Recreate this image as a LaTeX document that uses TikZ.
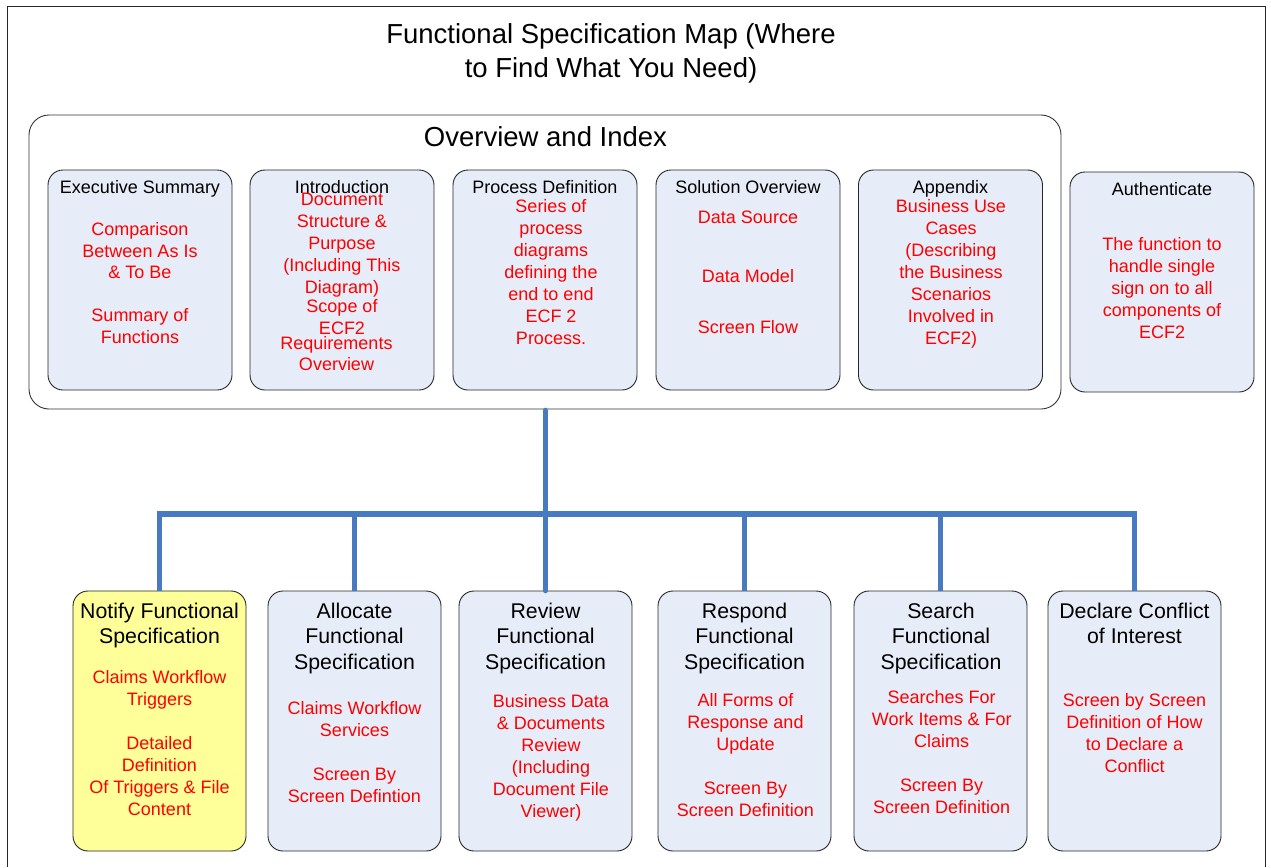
\documentclass[tikz,border=0pt]{standalone}
\usepackage{fontspec}
\setmainfont{Liberation Sans}
\definecolor{boxblue}{RGB}{231,237,248}
\definecolor{boxyellow}{RGB}{255,255,153}
\definecolor{connblue}{RGB}{72,122,194}
\definecolor{txtred}{RGB}{255,0,0}
\tikzset{
  frame/.style={draw=black!85, line width=0.9pt},
  container/.style={draw=black!80, fill=white, line width=0.9pt, rounded corners=20pt, inner sep=0pt},
  topbox/.style={draw=black!85, fill=boxblue, line width=0.9pt, rounded corners=15pt,
    minimum width=184pt, minimum height=220pt, inner sep=0pt},
  botbox/.style={draw=black!85, fill=boxblue, line width=0.9pt, rounded corners=15pt,
    minimum width=173pt, minimum height=260pt, inner sep=0pt},
  ttl/.style={inner sep=0pt, align=center, font=\fontsize{18}{21.5}\selectfont, anchor=base},
  bigttl/.style={inner sep=0pt, align=center, font=\fontsize{27.5}{34}\selectfont, anchor=north},
  bttl/.style={inner sep=0pt, align=center, font=\fontsize{21.3}{25.5}\selectfont, anchor=north},
  body/.style={inner sep=0pt, align=center, text=txtred, font=\fontsize{18}{22}\selectfont, anchor=north},
  conn/.style={draw=connblue, line width=5.5pt},
}
\begin{document}
\begin{tikzpicture}[x=1pt,y=-1pt]
\useasboundingbox (0,0) rectangle (1271,867);
% outer frame
\draw[frame] (7,867) -- (7,6) -- (1265,6) -- (1265,867);
\node[bigttl] (maintitle) at (611,23) {Functional Specification Map (Where\\to Find What You Need)};

% overview container
\node[container, minimum width=1032pt, minimum height=294pt] (ov) at (545,262) {};
\node[inner sep=0pt, font=\fontsize{27.5}{34}\selectfont, anchor=base] (ovt) at (545.5,146) {Overview and Index};

% top boxes
\node[topbox] (es) at (140,280) {};
\node[topbox] (in) at (342,280) {};
\node[topbox] (pd) at (545,280) {};
\node[topbox] (so) at (748,280) {};
\node[topbox] (ap) at (950.5,280) {};
\node[topbox] (au) at (1162,282) {};

\node[ttl] (es-t) at (140,193.5) {Executive Summary};
\node[ttl] (in-t) at (342,193.5) {Introduction};
\node[ttl] (pd-t) at (545,193.5) {Process Definition};
\node[ttl] (so-t) at (748,193.5) {Solution Overview};
\node[ttl] (ap-t) at (950.5,193.5) {Appendix};
\node[ttl] (au-t) at (1162,195.5) {Authenticate};

\node[body, font=\fontsize{18}{21.5}\selectfont] (es-b) at (140,222.5) {Comparison\\Between As Is\\\& To Be\\[21.5pt]Summary of\\Functions};
\node[body] (in-b) at (342,192.5) {Document\\Structure \&\\Purpose\\(Including This\\Diagram)\\[-3pt]Scope of\\ECF2};
\node[body] (in-b2) at (336.5,336.5) {Requirements\\[-1pt]Overview};
\node[body] (pd-b) at (551,199.5) {Series of\\process\\diagrams\\defining the\\end to end\\ECF 2\\Process.};
\node[body] (so-b) at (748,210.5) {Data Source\\[37pt]Data Model\\[29pt]Screen Flow};
\node[body] (ap-b) at (951,199.5) {Business Use\\Cases\\(Describing\\the Business\\Scenarios\\Involved in\\ECF2)};
\node[body] (au-b) at (1162,237.5) {The function to\\handle single\\sign on to all\\components of\\ECF2};

% bottom boxes
\node[botbox, fill=boxyellow] (nt) at (159.5,721) {};
\node[botbox] (al) at (354.5,721) {};
\node[botbox] (rv) at (545.5,721) {};
\node[botbox] (rs) at (744.5,721) {};
\node[botbox] (se) at (940.5,721) {};
\node[botbox] (dc) at (1134.5,721) {};

\node[bttl] (nt-t) at (159.5,602.4) {Notify Functional\\Specification};
\node[bttl] (al-t) at (354.5,602.4) {Allocate\\Functional\\Specification};
\node[bttl] (rv-t) at (545.5,602.4) {Review\\Functional\\Specification};
\node[bttl] (rs-t) at (744.5,602.4) {Respond\\Functional\\Specification};
\node[bttl] (se-t) at (941,602.4) {Search\\Functional\\Specification};
\node[bttl] (dc-t) at (1134.5,602.4) {Declare Conflict\\of Interest};

\node[body] (nt-b) at (159.5,670.5) {Claims Workflow\\Triggers\\[22pt]Detailed\\Definition\\Of Triggers \& File\\Content};
\node[body] (al-b) at (354.5,701.5) {Claims Workflow\\Services\\[22pt]Screen By\\Screen Defintion};
\node[body] (rv-b) at (551,694.5) {Business Data\\\& Documents\\Review\\(Including\\Document File\\Viewer)};
\node[body] (rs-b) at (745.5,693.5) {All Forms of\\Response and\\Update\\[22pt]Screen By\\Screen Definition};
\node[body] (se-b) at (941.7,690.5) {Searches For\\Work Items \& For\\Claims\\[22pt]Screen By\\Screen Definition};
\node[body] (dc-b) at (1134.5,693.5) {Screen by Screen\\Definition of How\\to Declare a\\Conflict};

% connectors
\coordinate (j) at (545.5,514);
\draw[conn, line cap=round] ([yshift=-1pt]ov.south -| rv.north) -- (rv.north);
\draw[conn] (nt.north) -- (nt.north |- j) -- (dc.north |- j) -- (dc.north);
\draw[conn] (al.north |- j) -- (al.north);
\draw[conn] (rs.north |- j) -- (rs.north);
\draw[conn] (se.north |- j) -- (se.north);
\end{tikzpicture}
\end{document}
